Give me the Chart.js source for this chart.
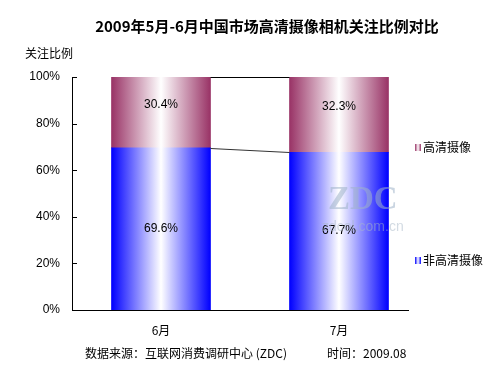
<!DOCTYPE html>
<html>
<head>
<meta charset="utf-8">
<script src="https://cdn.jsdelivr.net/npm/chart.js@4/dist/chart.umd.min.js"></script>
<style>
html,body{margin:0;padding:0;background:#fff;}
#c{display:block;}
</style>
</head>
<body>
<canvas id="c" width="500" height="375"></canvas>
<script>
const titleText = '2009年5月-6月中国市场高清摄像相机关注比例对比';
const yAxisTitle = '关注比例';
const categories = ['6月', '7月'];
const nonHD = [69.6, 67.7];
const hd = [30.4, 32.3];
const seriesNames = ['非高清摄像', '高清摄像'];
const yTickValues = [0, 20, 40, 60, 80, 100];
const footerSource = '数据来源：互联网消费调研中心 (ZDC)';
const footerTime = '时间：2009.08';

const BLUE = '#0000ff';
const PURPLE = '#993366';
const BAR_W = 99;
const SANS = '"Liberation Sans", Arial, sans-serif';
const CJK = '"Noto Sans CJK SC", "Liberation Sans", sans-serif';

function gradFor(edge) {
  return function (ctx) {
    const chart = ctx.chart;
    const xs = chart.scales && chart.scales.x;
    if (!xs || ctx.dataIndex === undefined) return edge;
    const cx = xs.getPixelForValue(ctx.dataIndex);
    if (!isFinite(cx)) return edge;
    const g = chart.ctx.createLinearGradient(cx - BAR_W / 2, 0, cx + BAR_W / 2, 0);
    g.addColorStop(0, edge);
    g.addColorStop(0.5, '#ffffff');
    g.addColorStop(1, edge);
    return g;
  };
}

const decor = {
  id: 'decor',
  afterDatasetsDraw(chart) {
    const c = chart.ctx;
    const xs = chart.scales.x, ys = chart.scales.y;
    const metas = [chart.getDatasetMeta(0), chart.getDatasetMeta(1)];
    c.save();
    // series lines between bars
    c.lineWidth = 1;
    for (let d = 0; d < 2; d++) {
      const m = metas[d];
      for (let i = 0; i < m.data.length - 1; i++) {
        const a = m.data[i], b = m.data[i + 1];
        c.strokeStyle = d === 1 ? '#000' : '#333';
        c.beginPath();
        c.moveTo(a.x + a.width / 2, Math.round(a.y) + 0.5);
        c.lineTo(b.x - b.width / 2, Math.round(b.y) + 0.5);
        c.stroke();
      }
    }
    // data labels
    c.fillStyle = '#000';
    c.font = '12px ' + SANS;
    c.textAlign = 'center';
    c.textBaseline = 'middle';
    const vals = [nonHD, hd];
    for (let d = 0; d < 2; d++) {
      metas[d].data.forEach((el, i) => {
        const mid = (el.y + el.base) / 2 + (d === 1 ? -8 : 0);
        c.fillText(vals[d][i].toFixed(1) + '%', el.x, mid);
      });
    }
    // axes
    const left = chart.chartArea.left;
    const y0 = ys.getPixelForValue(0), y100 = ys.getPixelForValue(100);
    c.strokeStyle = '#000';
    c.beginPath();
    c.moveTo(left + 0.5, y100);
    c.lineTo(left + 0.5, y0 + 0.5);
    c.lineTo(409, y0 + 0.5);
    c.stroke();
    yTickValues.forEach(v => {
      const y = Math.round(ys.getPixelForValue(v)) + 0.5;
      c.beginPath();
      c.moveTo(left, y);
      c.lineTo(left + 5, y);
      c.stroke();
    });
    // watermark
    c.globalAlpha = 0.55;
    c.fillStyle = '#9fb3c8';
    c.textAlign = 'left';
    c.textBaseline = 'alphabetic';
    c.font = 'bold 33px "Liberation Serif", "DejaVu Serif", serif';
    c.fillText('ZDC', 328, 209);
    c.globalAlpha = 0.5;
    c.font = '14px ' + SANS;
    c.fillStyle = '#a8b8c8';
    c.fillText('zdcol.com.cn', 322, 231);
    c.globalAlpha = 1;
    c.restore();
  },
  afterDraw(chart) {
    const c = chart.ctx;
    c.save();
    c.fillStyle = '#000';
    c.textBaseline = 'middle';
    c.textAlign = 'center';
    c.font = 'bold 15px ' + CJK;
    c.fillText(titleText, 267, 26);
    c.textAlign = 'left';
    c.font = '12px ' + CJK;
    c.fillText(yAxisTitle, 25, 53);
    c.fillText(footerSource, 85, 353);
    c.fillText(footerTime, 327, 353);
    // legend
    const items = [[seriesNames[1], PURPLE, 147], [seriesNames[0], BLUE, 260]];
    items.forEach(([label, col, y]) => {
      const g = c.createLinearGradient(415, 0, 421, 0);
      g.addColorStop(0, col);
      g.addColorStop(0.5, '#ffffff');
      g.addColorStop(1, col);
      c.fillStyle = g;
      c.fillRect(415, y - 3, 6, 7);
      c.fillStyle = '#000';
      c.fillText(label, 423, y);
    });
    c.restore();
  }
};

new Chart(document.getElementById('c'), {
  type: 'bar',
  data: {
    labels: categories,
    datasets: [
      { label: seriesNames[0], data: nonHD, backgroundColor: gradFor(BLUE), borderWidth: 0 },
      { label: seriesNames[1], data: hd, backgroundColor: gradFor(PURPLE), borderWidth: 0 }
    ]
  },
  options: {
    responsive: false,
    animation: false,
    events: [],
    layout: { padding: { left: 0, top: 77, right: 72, bottom: 0 } },
    datasets: { bar: { barThickness: BAR_W } },
    plugins: { legend: { display: false }, title: { display: false }, tooltip: { enabled: false } },
    scales: {
      x: {
        stacked: true,
        grid: { display: false, drawTicks: false },
        border: { display: false },
        ticks: { color: '#000', font: { size: 12, family: CJK }, padding: 13 },
        afterFit(s) { s.height = 65; }
      },
      y: {
        stacked: true,
        min: 0, max: 100,
        afterBuildTicks(s) { s.ticks = yTickValues.map(v => ({ value: v })); },
        grid: { display: false, drawTicks: false },
        border: { display: false },
        ticks: { color: '#000', font: { size: 12, family: SANS }, padding: 12, callback: v => v + '%' },
        afterFit(s) { s.width = 72; }
      }
    }
  },
  plugins: [decor]
});
</script>
</body>
</html>
